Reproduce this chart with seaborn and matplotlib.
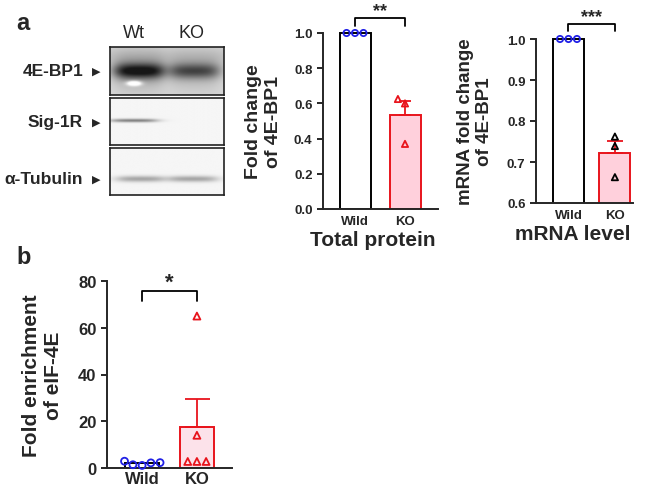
import numpy as np
import pandas as pd
import seaborn as sns
import matplotlib.pyplot as plt
from matplotlib.patches import Rectangle
from matplotlib.ticker import FormatStrFormatter

# ---- data ----
groups = ["Wild", "KO"]
protein_wild = [1.0, 1.0, 1.0]
protein_ko = [0.625, 0.60, 0.37]
mrna_wild = [1.0, 1.0, 1.0]
mrna_ko = [0.762, 0.739, 0.663]
eif_wild = [1.4, 2.9, 2.2, 2.3, 1.1]
eif_ko = [65.0, 14.0, 2.8, 2.8, 2.8]

# western blot: relative band darkness per lane
blot_rows = ["4E-BP1", "Sig-1R", "α-Tubulin"]
blot_lanes = ["Wt", "KO"]
band_wt = [0.72, 0.55, 0.36]
band_ko = [0.50, 0.0, 0.36]

# band styling (position inside each box, thickness, lane spans)
band_y = [0.50, 0.49, 0.66]
band_sy = [0.16, 0.035, 0.065]
lane_spans = [[(0.05, 0.46), (0.54, 0.95)],
              [(0.02, 0.40), (0.53, 0.93)],
              [(0.07, 0.46), (0.53, 0.93)]]
band_bg = [0.17, 0.04, 0.04]

RED = "#e8141c"
BLUE = "#2020e6"

sns.set_style("ticks")
plt.rcParams["font.family"] = ["Liberation Sans", "DejaVu Sans"]
plt.rcParams["font.weight"] = "bold"
plt.rcParams["axes.linewidth"] = 1.4

W, H = 649, 489
fig = plt.figure(figsize=(W / 100, H / 100), dpi=100)


def px_axes(l, t, r, b):
    return fig.add_axes([l / W, 1 - b / H, (r - l) / W, (b - t) / H])


def ftext(x, y, s, **kw):
    fig.text(x / W, 1 - y / H, s, **kw)


# ---- western blot ----
boxes = [(110, 48, 224, 96), (110, 99, 224, 146), (110, 149, 224, 196)]
row_y = [72, 123, 180]
for i, (l, t, r, b) in enumerate(boxes):
    ax = px_axes(l, t, r, b)
    ny, nx = 60, 140
    yy, xx = np.mgrid[0:1:ny * 1j, 0:1:nx * 1j]
    img = np.full((ny, nx), band_bg[i])
    if i == 0:
        img += 0.08 * np.exp(-((yy - 0.2) / 0.2) ** 2)
    for amp, (x0, x1) in zip([band_wt[i], band_ko[i]], lane_spans[i]):
        prof = 1 / (1 + np.exp(-(xx - x0) / 0.04)) / (1 + np.exp((xx - x1) / 0.04))
        img += amp * prof * np.exp(-((yy - band_y[i]) / band_sy[i]) ** 2)
        if i == 0:
            img += 0.3 * amp * prof * np.exp(-((yy - band_y[i]) / 0.4) ** 2)
    if i == 0:
        img -= 0.7 * np.exp(-(((xx - 0.21) / 0.06) ** 2 + ((yy - 0.76) / 0.05) ** 2))
    ax.imshow(np.clip(img, 0, 1), cmap="gray_r", vmin=0, vmax=1.1,
              aspect="auto", extent=(0, 1, 1, 0), interpolation="bicubic")
    ax.set_xticks([])
    ax.set_yticks([])
    for s in ax.spines.values():
        s.set_linewidth(1.2)
        s.set_color("#222222")
    ftext(83, row_y[i], blot_rows[i], ha="right", va="center", fontsize=12.5,
          fontweight="bold")
    ftext(96, row_y[i], "▶", ha="center", va="center", fontsize=8,
          family="DejaVu Sans")

for lane, x in zip(blot_lanes, [134, 191]):
    ftext(x, 34, lane, ha="center", va="center", fontsize=13, fontweight="normal")

ftext(23, 24, "a", ha="center", va="center", fontsize=17, fontweight="bold")
ftext(24, 258, "b", ha="center", va="center", fontsize=17, fontweight="bold")


# ---- bar panels ----
def bar_panel(ax, wild, ko, ko_fill, ko_pt_color, width, capsize, msize):
    df = pd.DataFrame({"group": ["Wild"] * len(wild) + ["KO"] * len(ko),
                       "value": wild + ko})
    sns.barplot(data=df, x="group", y="value", hue="group", order=groups,
                hue_order=groups, palette={"Wild": "white", "KO": ko_fill},
                errorbar=None, width=width, saturation=1, linewidth=1.4,
                legend=False, ax=ax)
    clip = Rectangle((0, 0), 1, 1.05, transform=ax.transAxes)
    for p, ec in zip(ax.patches, ["black", RED]):
        p.set_edgecolor(ec)
        p.set_clip_path(clip)
    m = np.mean(ko)
    se = np.std(ko, ddof=1) / np.sqrt(len(ko))
    ax.errorbar(1, m, yerr=[[0], [se]], color=RED, capsize=capsize,
                elinewidth=1.3, capthick=1.3, zorder=3)
    for sub, marker, col in [(df[df.group == "Wild"], "o", BLUE),
                             (df[df.group == "KO"], "^", ko_pt_color)]:
        n0 = len(ax.collections)
        sns.swarmplot(data=sub, x="group", y="value", order=groups,
                      marker=marker, size=msize, color=col, ax=ax, zorder=4)
        for c in list(ax.collections[n0:]):
            if len(c.get_offsets()) == 0:
                c.remove()
                continue
            c.set_facecolor("none")
            c.set_edgecolor(col)
            c.set_linewidth(1.3)
            c.set_clip_on(False)
    sns.despine(ax=ax)
    ax.tick_params(axis="x", length=0, pad=4)
    ax.tick_params(axis="y", length=4, width=1.4)
    ax.set_xlabel("")
    ax.set_ylabel("")


def bracket(ax, y_top, y_low, y_star, stars, fs=13):
    ax.plot([0, 0, 1, 1], [y_low, y_top, y_top, y_low], color="black",
            lw=1.3, clip_on=False)
    ax.text(0.5, y_star, stars, ha="center", va="center", fontsize=fs,
            fontweight="bold")


# total protein
ax1 = px_axes(323, 34, 438, 210)
bar_panel(ax1, protein_wild, protein_ko, "#ffd0dc", RED, 0.62, 4.5, 4.5)
ax1.set_ylim(0, 1.0)
ax1.set_xlim(-0.64, 1.66)
ax1.set_yticks(np.arange(0, 1.01, 0.2))
ax1.yaxis.set_major_formatter(FormatStrFormatter("%.1f"))
ax1.tick_params(labelsize=9.5)
ax1.set_ylabel("Fold change\nof 4E-BP1", fontsize=14, fontweight="bold")
ax1.yaxis.set_label_coords(-0.36, 0.5)
ax1.set_xlabel("Total protein", fontsize=15, fontweight="bold", labelpad=3)
ax1.xaxis.set_label_coords(0.43, -0.12)
bracket(ax1, 1.085, 1.04, 1.125, "**")

# mRNA level
ax2 = px_axes(536, 40, 633, 204)
bar_panel(ax2, mrna_wild, mrna_ko, "#ffd0dc", "black", 0.67, 5.5, 4.5)
ax2.set_ylim(0.6, 1.0)
ax2.set_xlim(-0.70, 1.39)
ax2.set_yticks(np.arange(0.6, 1.001, 0.1))
ax2.yaxis.set_major_formatter(FormatStrFormatter("%.1f"))
ax2.tick_params(labelsize=9.5)
ax2.set_ylabel("mRNA fold change\nof 4E-BP1", fontsize=13.5, fontweight="bold")
ax2.yaxis.set_label_coords(-0.44, 0.5)
ax2.set_xlabel("mRNA level", fontsize=15, fontweight="bold")
ax2.xaxis.set_label_coords(0.38, -0.13)
bracket(ax2, 1.037, 1.02, 1.055, "***")

# eIF-4E enrichment
ax3 = px_axes(107, 282, 232, 469)
bar_panel(ax3, eif_wild, eif_ko, "#fce2ea", RED, 0.62, 9, 5)
ax3.set_ylim(0, 80)
ax3.set_xlim(-0.64, 1.64)
ax3.set_yticks(np.arange(0, 81, 20))
ax3.tick_params(axis="y", labelsize=12)
ax3.tick_params(axis="x", labelsize=12, pad=2)
ax3.set_ylabel("Fold enrichment\nof eIF-4E", fontsize=15, fontweight="bold")
ax3.yaxis.set_label_coords(-0.35, 0.5)
bracket(ax3, 75.9, 71.6, 79.5, "*", fs=16)

for ax in (ax1, ax2, ax3):
    for lab in ax.get_xticklabels() + ax.get_yticklabels():
        lab.set_fontweight("bold")

fig.savefig("out.png", dpi=100)
